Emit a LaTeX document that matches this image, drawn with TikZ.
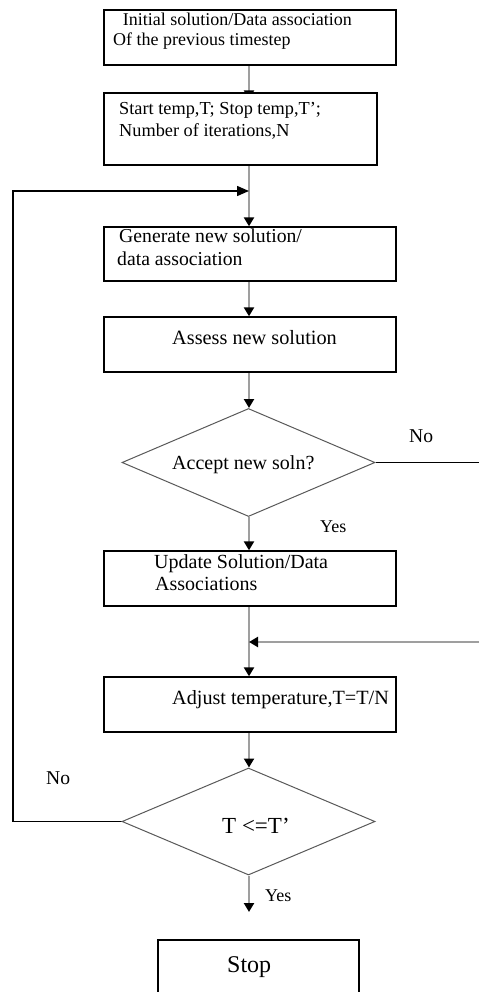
\documentclass[tikz,border=0pt]{standalone}
\usepackage{fontspec}
\setmainfont{Liberation Serif}
\usetikzlibrary{shapes.geometric,arrows.meta,backgrounds}

\begin{document}
\begin{tikzpicture}[x=1pt,y=-1pt,
  stepbox/.style={rectangle,draw=black,line width=1.4pt,fill=white,inner sep=0pt},
  decision/.style={diamond,draw=black!65,line width=1pt,fill=white,inner sep=0pt,
    minimum width=253pt,minimum height=108pt},
  txt/.style={anchor=base west,inner sep=0pt,font=\fontsize{#1}{#1}\selectfont},
  flow/.style={draw=gray!75,line width=2.6pt,
    -{Triangle[width=10pt,length=9pt,color=black]}},
  blackline/.style={draw=black,line width=1.5pt},
  blackflow/.style={draw=black,line width=1.5pt,
    -{Triangle[width=10pt,length=12pt]}}
]
\useasboundingbox (0,0) rectangle (479,992);

% vertical axis of the main flow and the two merge points
\coordinate (spine) at (249,0);
\coordinate (j1) at (249,191);
\coordinate (j2) at (249,642);
\coordinate (leftrail) at (13,0);
\coordinate (noout) at (479,462.5);
\coordinate (backin) at (479,642);
\coordinate (yesend) at (249,912);

% process boxes
\node[stepbox,minimum width=292pt,minimum height=55pt] (b1) at (250,37.5) {};
\node[stepbox,minimum width=273pt,minimum height=72pt] (b2) at (240.5,129) {};
\node[stepbox,minimum width=292pt,minimum height=54pt] (b3) at (250,254) {};
\node[stepbox,minimum width=292pt,minimum height=55pt] (b4) at (250,344.5) {};
\node[decision] (d1) at (248.5,462.5) {};
\node[stepbox,minimum width=292pt,minimum height=55pt] (b5) at (250,578.5) {};
\node[stepbox,minimum width=292pt,minimum height=55pt] (b6) at (250,704.5) {};
\node[decision,minimum height=107pt] (d2) at (248.5,821.5) {};
\node[stepbox,minimum width=201pt,minimum height=64pt] (stop) at (258.5,972) {};

% texts
\node[txt=18] (t1a) at (122.7,26) {Initial solution/Data association};
\node[txt=18] (t1b) at (113,46) {Of the previous timestep};
\node[txt=18.3] (t2a) at (119,115) {Start temp,T; Stop temp,T';};
\node[txt=18.3] (t2b) at (119,137) {Number of iterations,N};
\node[txt=19.7] (t3a) at (119,243) {Generate new solution/};
\node[txt=19.7] (t3b) at (117,265) {data association};
\node[txt=20.3] (t4) at (172,344) {Assess new solution};
\node[txt=20] (td1) at (172,469) {Accept new soln?};
\node[txt=19.6] (no1) at (409,442) {No};
\node[txt=18] (yes1) at (320,532) {Yes};
\node[txt=20] (t5a) at (154,568) {Update Solution/Data};
\node[txt=20] (t5b) at (155,590) {Associations};
\node[txt=20.2] (t6) at (172,704) {Adjust temperature,T=T/N};
\node[txt=19.6] (no2) at (46,784) {No};
\node[txt=23] (td2) at (222,833) {T <=T'};
\node[txt=18] (yes2) at (265,901) {Yes};
\node[txt=24] (tstop) at (227,972) {Stop};

% connectors, kept behind the boxes
\begin{scope}[on background layer]
  \fill[white] (0,0) rectangle (479,992);
  \draw[flow] (b1.south -| spine) -- ([yshift=-7pt]b2.north -| spine);
  \draw[flow] (b2.south -| spine) -- (b3.north -| spine);
  \draw[flow] (b3.south -| spine) -- (b4.north -| spine);
  \draw[flow] (b4.south -| spine) -- (d1.north -| spine);
  \draw[flow] (d1.south -| spine) -- (b5.north -| spine);
  \draw[flow] (b5.south -| spine) -- (b6.north -| spine);
  \draw[flow] (b6.south -| spine) -- (d2.north -| spine);
  \draw[flow] (d2.south -| spine) -- (yesend);
  % rejected solution leaves to the right and comes back above the update
  \draw[blackline] (d1.east) -- (noout);
  \draw[flow] (backin) -- (j2);
  % temperature not low enough: loop back to generating a new solution
  \draw[blackflow] (d2.west) -| (leftrail |- j1) -- (j1);
\end{scope}
\end{tikzpicture}
\end{document}
